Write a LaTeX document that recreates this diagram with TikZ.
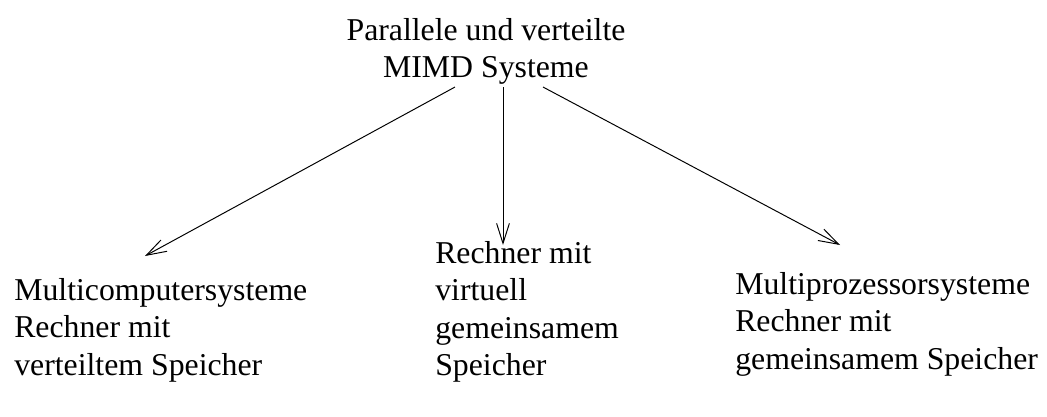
\documentclass[tikz,border=0pt]{standalone}
\usepackage{fontspec}
\setmainfont{Liberation Serif}
\usetikzlibrary{arrows.meta}

\begin{document}
\begin{tikzpicture}[x=0.025cm, y=-0.025cm, font=\fontsize{22.6}{26.7}\selectfont]
				\useasboundingbox (0,0) rectangle (1047,416);
				\node[align=center, anchor=north, inner sep=0pt] (MIMD)at(486, 18) {Parallele und verteilte\\MIMD Systeme};
				\node[align=left, anchor=north west, inner sep=0pt] (MC)at(14, 278) {Multicomputersysteme\\Rechner mit\\verteiltem Speicher};
				\node[align=left, anchor=north west, inner sep=0pt] (VS)at(435, 241) {Rechner mit\\virtuell\\gemeinsamem\\Speicher};
				\node[align=left, anchor=north west, inner sep=0pt] (MP)at(735, 272) {Multiprozessorsysteme\\Rechner mit\\gemeinsamem Speicher};
				\coordinate (MCtip) at (145, 256);
				\coordinate (VStip) at (503, 245);
				\coordinate (MPtip) at (840, 245);
				\draw[->, >={Straight Barb[length=5mm, width=3.2mm]}, line width=0.7pt] (MIMD.south -| 455, 0) ++(0,2) -- (MCtip);
				\draw[->, >={Straight Barb[length=5mm, width=3.2mm]}, line width=0.7pt] (MIMD.south -| VStip) ++(0,2) -- (VStip);
				\draw[->, >={Straight Barb[length=5mm, width=3.2mm]}, line width=0.7pt] (MIMD.south -| 543, 0) ++(0,2) -- (MPtip);
			\end{tikzpicture}
\end{document}
